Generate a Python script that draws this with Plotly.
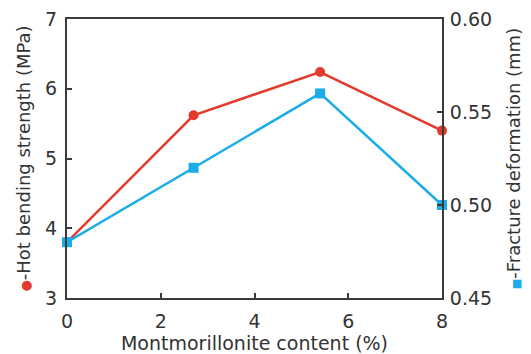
import plotly.graph_objects as go

content = [0, 2.7, 5.4, 8]
strength = [3.8, 5.62, 6.24, 5.40]
deformation = [0.48, 0.52, 0.56, 0.50]

RED = "#e23a2c"
BLUE = "#1badea"
AX = "#3a3a3a"
TXT = "#333333"
FONT = "DejaVu Sans, Liberation Sans, Arial, sans-serif"
FS = 19
TFS = 18

fig = go.Figure()
fig.add_trace(go.Scatter(x=content, y=deformation, yaxis="y2", mode="lines+markers",
                         line=dict(color=BLUE, width=2.5),
                         marker=dict(symbol="square", size=10, color=BLUE),
                         showlegend=False, cliponaxis=False))
fig.add_trace(go.Scatter(x=content, y=strength, mode="lines+markers",
                         line=dict(color=RED, width=2.5),
                         marker=dict(symbol="circle", size=10, color=RED),
                         showlegend=False, cliponaxis=False))

axcommon = dict(showgrid=False, zeroline=False, showline=True, linecolor=AX, linewidth=2,
                ticks="inside", ticklen=5, tickwidth=1.5, tickcolor=AX, automargin=False,
                tickfont=dict(family=FONT, size=FS, color=TXT))

fig.update_layout(
    width=531, height=354,
    margin=dict(l=67, r=89, t=19, b=56),
    paper_bgcolor="white", plot_bgcolor="white",
    font=dict(family=FONT, color=TXT),
    xaxis=dict(range=[0, 8], tickvals=[0, 2, 4, 6, 8], mirror=True, ticklabelstandoff=5,
               title=dict(text="Montmorillonite content (%)", font=dict(family=FONT, size=TFS + 1, color=TXT), standoff=2),
               **axcommon),
    yaxis=dict(range=[3, 7], tickvals=[3, 4, 5, 6, 7], ticklabelstandoff=4,
               title=dict(text=f"<span style='color:{RED};font-size:13px'>●</span>-Hot bending strength (MPa)",
                          font=dict(family=FONT, size=TFS, color=TXT), standoff=10),
               **axcommon),
    yaxis2=dict(range=[0.45, 0.60], tickvals=[0.45, 0.50, 0.55, 0.60], ticktext=["0.45", "0.50", "0.55", "0.60"],
                overlaying="y", side="right", ticklabelstandoff=2,
                title=dict(text=f"<span style='color:{BLUE};font-size:11px'>■</span>-Fracture deformation (mm)",
                           font=dict(family=FONT, size=TFS, color=TXT), standoff=16),
                **axcommon),
)

fig.write_html("out.html")
